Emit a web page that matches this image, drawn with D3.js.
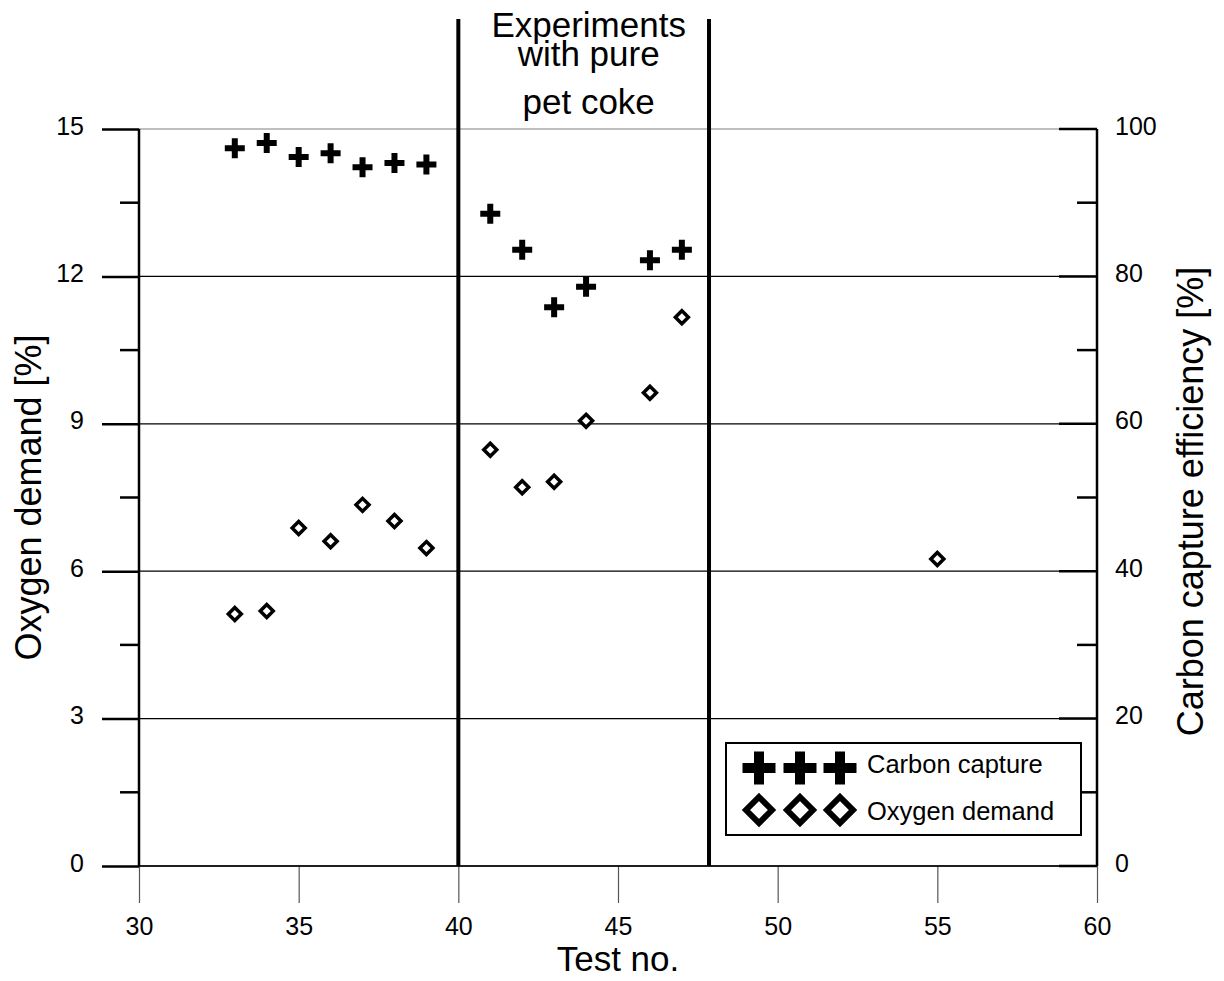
<!DOCTYPE html>
<html>
<head>
<meta charset="utf-8">
<script src="https://cdn.jsdelivr.net/npm/d3@7"></script>
<style>
  body { margin: 0; background: #fff; }
  svg { font-family: "Liberation Sans", Arial, sans-serif; }
</style>
</head>
<body>
<div id="chart"></div>
<script>
// test numbers and measured values
const captureTests = [33, 34, 35, 36, 37, 38, 39, 41, 42, 43, 44, 46, 47];
const captureValues = [97.4, 98.1, 96.2, 96.7, 94.8, 95.4, 95.2, 88.5, 83.6, 75.8, 78.6, 82.2, 83.6];

const oxygenTests = [33, 34, 35, 36, 37, 38, 39, 41, 42, 43, 44, 46, 47, 55];
const oxygenValues = [5.13, 5.19, 6.88, 6.61, 7.35, 7.02, 6.47, 8.47, 7.71, 7.82, 9.06, 9.63, 11.17, 6.25];

const xTicks = [30, 35, 40, 45, 50, 55, 60];
const leftTicks = [0, 3, 6, 9, 12, 15];
const leftMinor = [1.5, 4.5, 7.5, 10.5, 13.5];
const rightTicks = [0, 20, 40, 60, 80, 100];
const rightMinor = [10, 30, 50, 70, 90];

const pureCokeBounds = [40, 47.85];
const annotationLines = ["Experiments", "with pure", "pet coke"];
const legendItems = ["Carbon capture", "Oxygen demand"];

const width = 1224, height = 981;
const margin = { top: 129, right: 127, bottom: 115, left: 139 };

const svg = d3.select("#chart").append("svg")
    .attr("width", width)
    .attr("height", height);

const x = d3.scaleLinear().domain([30, 60]).range([margin.left, width - margin.right]);
const yLeft = d3.scaleLinear().domain([0, 15]).range([height - margin.bottom, margin.top]);
const yRight = d3.scaleLinear().domain([0, 100]).range([height - margin.bottom, margin.top]);

const x0 = x.range()[0], x1 = x.range()[1];
const yBottom = yLeft.range()[0], yTop = yLeft.range()[1];

// horizontal grid lines at major left ticks
svg.append("g").selectAll("line")
    .data(leftTicks)
    .join("line")
    .attr("x1", x0).attr("x2", x1)
    .attr("y1", d => yLeft(d)).attr("y2", d => yLeft(d))
    .attr("stroke", d => d === 15 ? "#808080" : "#000")
    .attr("stroke-width", 1.2);

// bottom axis
const xAxis = svg.append("g")
    .attr("transform", `translate(0, ${yBottom})`)
    .call(d3.axisBottom(x).tickValues(xTicks).tickSize(37).tickPadding(14));
xAxis.select(".domain").remove();
xAxis.selectAll(".tick line").attr("stroke", "#555").attr("stroke-width", 1.2);
xAxis.selectAll(".tick text").style("font-size", "25px").attr("fill", "#000");

svg.append("line")
    .attr("x1", x0).attr("x2", x1)
    .attr("y1", yBottom).attr("y2", yBottom)
    .attr("stroke", "#000").attr("stroke-width", 1.5);

// left axis
const leftAxis = svg.append("g")
    .attr("transform", `translate(${x0}, 0)`)
    .call(d3.axisLeft(yLeft).tickValues(leftTicks).tickSize(37).tickPadding(18));
leftAxis.select(".domain").remove();
leftAxis.selectAll(".tick line").attr("stroke-width", 2.5);
leftAxis.selectAll(".tick text").style("font-size", "25px").attr("dy", "0.2em");

svg.append("g").selectAll("line")
    .data(leftMinor)
    .join("line")
    .attr("x1", x0 - 19).attr("x2", x0)
    .attr("y1", d => yLeft(d)).attr("y2", d => yLeft(d))
    .attr("stroke", "#000").attr("stroke-width", 2.5);

svg.append("line")
    .attr("x1", x0).attr("x2", x0)
    .attr("y1", yTop).attr("y2", yBottom)
    .attr("stroke", "#000").attr("stroke-width", 2.5);

// right axis, ticks pointing inwards
const rightAxis = svg.append("g")
    .attr("transform", `translate(${x1}, 0)`)
    .call(d3.axisRight(yRight).tickValues(rightTicks).tickSize(0).tickPadding(18));
rightAxis.select(".domain").remove();
rightAxis.selectAll(".tick text").style("font-size", "25px").attr("dy", "0.2em");

svg.append("g").selectAll("line")
    .data(rightTicks)
    .join("line")
    .attr("x1", x1 - 38).attr("x2", x1)
    .attr("y1", d => yRight(d)).attr("y2", d => yRight(d))
    .attr("stroke", "#000").attr("stroke-width", 2.5);

svg.append("g").selectAll("line")
    .data(rightMinor)
    .join("line")
    .attr("x1", x1 - 20).attr("x2", x1)
    .attr("y1", d => yRight(d)).attr("y2", d => yRight(d))
    .attr("stroke", "#000").attr("stroke-width", 2.5);

svg.append("line")
    .attr("x1", x1).attr("x2", x1)
    .attr("y1", yTop).attr("y2", yBottom)
    .attr("stroke", "#000").attr("stroke-width", 2.5);

// axis titles
svg.append("text")
    .attr("x", (x0 + x1) / 2)
    .attr("y", 971)
    .attr("text-anchor", "middle")
    .style("font-size", "35px")
    .text("Test no.");

svg.append("text")
    .attr("transform", `translate(41, ${(yTop + yBottom) / 2}) rotate(-90)`)
    .attr("text-anchor", "middle")
    .style("font-size", "36px")
    .text("Oxygen demand [%]");

svg.append("text")
    .attr("transform", `translate(1203, ${(yTop + yBottom) / 2 + 4}) rotate(-90)`)
    .attr("text-anchor", "middle")
    .style("font-size", "36px")
    .text("Carbon capture efficiency [%]");

// boundary lines for the pure pet coke experiments
svg.append("g").selectAll("line")
    .data(pureCokeBounds)
    .join("line")
    .attr("x1", d => x(d)).attr("x2", d => x(d))
    .attr("y1", 19).attr("y2", yBottom)
    .attr("stroke", "#000").attr("stroke-width", 4);

svg.append("text")
    .attr("text-anchor", "middle")
    .style("font-size", "35px")
    .selectAll("tspan")
    .data(annotationLines)
    .join("tspan")
    .attr("x", d3.mean(pureCokeBounds, d => x(d)) + 5)
    .attr("y", (d, i) => [37, 66, 114][i])
    .text(d => d);

// marker shapes
const plusPath = (s, t) => {
    const h = s / 2, w = t / 2;
    return `M${-w},${-h}H${w}V${-w}H${h}V${w}H${w}V${h}H${-w}V${w}H${-h}V${-w}H${-w}Z`;
};
const diamondPath = r => `M0,${-r}L${r},0L0,${r}L${-r},0Z`;

svg.append("g").selectAll("path")
    .data(captureTests.map((t, i) => ({ t, v: captureValues[i] })))
    .join("path")
    .attr("transform", d => `translate(${x(d.t)}, ${yRight(d.v)})`)
    .attr("d", plusPath(20, 6))
    .attr("fill", "#000");

svg.append("g").selectAll("path")
    .data(oxygenTests.map((t, i) => ({ t, v: oxygenValues[i] })))
    .join("path")
    .attr("transform", d => `translate(${x(d.t)}, ${yLeft(d.v)})`)
    .attr("d", diamondPath(6.5))
    .attr("fill", "#fff")
    .attr("stroke", "#000")
    .attr("stroke-width", 3.5);

// legend
const legend = svg.append("g").attr("transform", "translate(726, 743)");
legend.append("rect")
    .attr("width", 355).attr("height", 92)
    .attr("fill", "#fff")
    .attr("stroke", "#000").attr("stroke-width", 2);

const legendX = [33, 74, 114];
legend.append("g").selectAll("path")
    .data(legendX)
    .join("path")
    .attr("transform", d => `translate(${d}, 25)`)
    .attr("d", plusPath(33, 10))
    .attr("fill", "#000");

legend.append("g").selectAll("path")
    .data(legendX)
    .join("path")
    .attr("transform", d => `translate(${d}, 67)`)
    .attr("d", diamondPath(13))
    .attr("fill", "#fff")
    .attr("stroke", "#000")
    .attr("stroke-width", 6);

legend.selectAll(".legend-label")
    .data(legendItems)
    .join("text")
    .attr("class", "legend-label")
    .attr("x", 141)
    .attr("y", (d, i) => 30 + i * 47)
    .style("font-size", "25.5px")
    .text(d => d);
</script>
</body>
</html>
